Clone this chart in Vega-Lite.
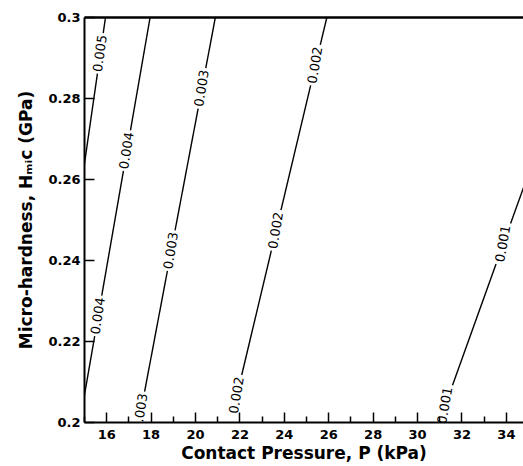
{
  "$schema": "https://vega.github.io/schema/vega-lite/v6.json",
  "autosize": "none",
  "width": 439,
  "height": 405,
  "padding": {"left": 84, "top": 17, "right": 0, "bottom": 44},
  "background": "white",
  "config": {"view": {"stroke": null}, "font": "DejaVu Sans"},
  "datasets": {
    "lines": [
      {"level": "0.005", "seg": "s1", "P": 15, "H": 0.263},
      {"level": "0.005", "seg": "s1", "P": 15.604, "H": 0.286},
      {"level": "0.005", "seg": "s2", "P": 15.866, "H": 0.296},
      {"level": "0.005", "seg": "s2", "P": 15.971, "H": 0.3},
      {"level": "0.004", "seg": "s3", "P": 15, "H": 0.206},
      {"level": "0.004", "seg": "s3", "P": 15.482, "H": 0.2212},
      {"level": "0.004", "seg": "s4", "P": 15.799, "H": 0.2312},
      {"level": "0.004", "seg": "s4", "P": 16.776, "H": 0.262},
      {"level": "0.004", "seg": "s5", "P": 17.093, "H": 0.272},
      {"level": "0.004", "seg": "s5", "P": 17.98, "H": 0.3},
      {"level": "0.003", "seg": "s6", "P": 17.729, "H": 0.2075},
      {"level": "0.003", "seg": "s6", "P": 18.756, "H": 0.2373},
      {"level": "0.003", "seg": "s7", "P": 19.101, "H": 0.2473},
      {"level": "0.003", "seg": "s7", "P": 20.139, "H": 0.2774},
      {"level": "0.003", "seg": "s8", "P": 20.484, "H": 0.2874},
      {"level": "0.003", "seg": "s8", "P": 20.918, "H": 0.3},
      {"level": "0.002", "seg": "s9", "P": 22.103, "H": 0.2116},
      {"level": "0.002", "seg": "s9", "P": 23.436, "H": 0.2423},
      {"level": "0.002", "seg": "s10", "P": 23.87, "H": 0.2523},
      {"level": "0.002", "seg": "s10", "P": 25.207, "H": 0.2831},
      {"level": "0.002", "seg": "s11", "P": 25.641, "H": 0.2931},
      {"level": "0.002", "seg": "s11", "P": 25.94, "H": 0.3},
      {"level": "0.001", "seg": "s12", "P": 31.596, "H": 0.2091},
      {"level": "0.001", "seg": "s12", "P": 33.556, "H": 0.239},
      {"level": "0.001", "seg": "s13", "P": 34.211, "H": 0.249},
      {"level": "0.001", "seg": "s13", "P": 37.553, "H": 0.3}
    ],
    "labels": [
      {"level": "0.005", "P": 15.735, "H": 0.291},
      {"level": "0.004", "P": 15.64, "H": 0.2262},
      {"level": "0.004", "P": 16.934, "H": 0.267},
      {"level": "0.003", "P": 17.556, "H": 0.2025},
      {"level": "0.003", "P": 18.929, "H": 0.2423},
      {"level": "0.003", "P": 20.311, "H": 0.2824},
      {"level": "0.002", "P": 21.886, "H": 0.2066},
      {"level": "0.002", "P": 23.653, "H": 0.2473},
      {"level": "0.002", "P": 25.424, "H": 0.2881},
      {"level": "0.001", "P": 31.269, "H": 0.2041},
      {"level": "0.001", "P": 33.883, "H": 0.244}
    ]
  },
  "encoding": {
    "y": {
      "field": "H", "type": "quantitative",
      "scale": {"domain": [0.2, 0.3], "nice": false, "zero": false},
      "axis": {
        "values": [0.2, 0.22, 0.24, 0.26, 0.28, 0.3],
        "format": "~g",
        "grid": false,
        "domainColor": "black", "domainWidth": 2,
        "tickColor": "black", "tickWidth": 1.5, "tickSize": -10,
        "labelPadding": 14,
        "labelFont": "DejaVu Sans", "labelFontWeight": "bold", "labelFontSize": 13, "labelColor": "black",
        "labelFlush": false,
        "title": "Micro-hardness, Hₘᵢc (GPa)",
        "titleFont": "DejaVu Sans", "titleFontWeight": "bold", "titleFontSize": 17, "titleColor": "black",
        "titlePadding": 12
      }
    }
  },
  "layer": [
    {
      "data": {"name": "lines"},
      "mark": {"type": "line", "color": "black", "strokeWidth": 1.4, "clip": true},
      "encoding": {
        "x": {
          "field": "P", "type": "quantitative",
          "scale": {"domain": [15, 34.77], "nice": false, "zero": false},
          "axis": {
            "orient": "bottom",
            "values": [16, 18, 20, 22, 24, 26, 28, 30, 32, 34],
            "grid": false,
            "domainColor": "black", "domainWidth": 2,
            "tickColor": "black", "tickWidth": 1.5, "tickSize": -10,
            "labelPadding": 16,
            "labelFont": "DejaVu Sans", "labelFontWeight": "bold", "labelFontSize": 13, "labelColor": "black",
            "labelFlush": false,
            "title": "Contact Pressure, P (kPa)",
            "titleFont": "DejaVu Sans", "titleFontWeight": "bold", "titleFontSize": 17, "titleColor": "black",
            "titlePadding": 4
          }
        },
        "detail": {"field": "seg", "type": "nominal"},
        "order": {"field": "H", "type": "quantitative"}
      }
    },
    {
      "data": {"name": "labels"},
      "transform": [{"filter": "datum.H < 0.25"}],
      "mark": {"type": "text", "font": "DejaVu Sans", "fontSize": 13, "color": "black", "align": "center", "baseline": "middle", "clip": true},
      "encoding": {
        "x": {
          "field": "P", "type": "quantitative",
          "scale": {"domain": [15, 34.77], "nice": false, "zero": false},
          "axis": {
            "orient": "bottom",
            "values": [15, 17, 19, 21, 23, 25, 27, 29, 31, 33],
            "grid": false, "domain": false, "labels": false, "title": null,
            "tickColor": "black", "tickWidth": 1.5, "tickSize": -6
          }
        },
        "text": {"field": "level", "type": "nominal"},
        "angle": {
          "field": "level", "type": "nominal", "legend": null,
          "scale": {"domain": ["0.005", "0.004", "0.003", "0.002", "0.001"], "range": [278.2, 279.9, 280.7, 283.4, 289.8]}
        }
      }
    },
    {
      "data": {"name": "labels"},
      "transform": [{"filter": "datum.H >= 0.25"}],
      "mark": {"type": "text", "font": "DejaVu Sans", "fontSize": 13, "color": "black", "align": "center", "baseline": "middle", "clip": true},
      "encoding": {
        "x": {
          "field": "P", "type": "quantitative",
          "scale": {"domain": [15, 34.77], "nice": false, "zero": false},
          "axis": {
            "orient": "top",
            "grid": false, "ticks": false, "labels": false, "title": null,
            "domainColor": "black", "domainWidth": 2.5
          }
        },
        "text": {"field": "level", "type": "nominal"},
        "angle": {
          "field": "level", "type": "nominal", "legend": null,
          "scale": {"domain": ["0.005", "0.004", "0.003", "0.002", "0.001"], "range": [278.2, 279.9, 280.7, 283.4, 289.8]}
        }
      }
    }
  ],
  "resolve": {"axis": {"x": "independent"}, "scale": {"angle": "shared"}}
}
